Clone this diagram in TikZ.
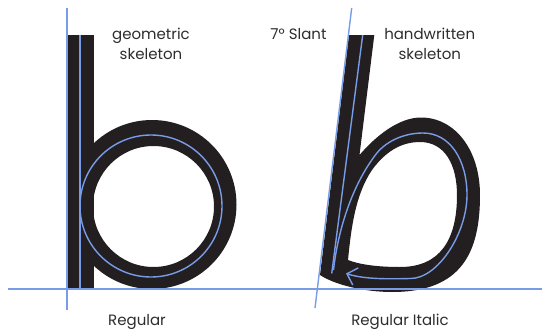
\documentclass[tikz,border=0pt]{standalone}
\usepackage{fontspec}
\setmainfont{Poppins}
\usetikzlibrary{arrows.meta}
\definecolor{guide}{RGB}{120,156,232}
\definecolor{ink}{RGB}{35,31,32}
\definecolor{txt}{RGB}{45,45,45}
\begin{document}
\begin{tikzpicture}[x=1pt,y=-1pt,
  guideline/.style={draw=guide,line width=1.4pt},
  lbl/.style={text=txt,font=\fontsize{15}{18}\selectfont,anchor=base,inner sep=0pt}]
\useasboundingbox (0,0) rectangle (542,330);
% upright b
\fill[ink,even odd rule] (152,204.5) circle[radius=84.5] (153.5,206.5) circle[radius=60.5];
\fill[ink] (68,35) rectangle (94,289);
% italic b
\fill[ink,even odd rule]
 (359.5,155) .. controls (375,137) and (398,117.5) .. (421,117.5)
 .. controls (455,117.5) and (480,150) .. (480,195)
 .. controls (480,252) and (462,292) .. (392,292)
 .. controls (365,292) and (335,285) .. (320,275)
 -- (349,35) -- (374.3,35) -- cycle
 (348,260) .. controls (351,230) and (355,195) .. (372,170)
 .. controls (388,148) and (405,142) .. (420,142)
 .. controls (445,142) and (457,165) .. (457,195)
 .. controls (457,240) and (440,267) .. (400,267)
 .. controls (375,267) and (358,264) .. cycle;
% guides
\draw[guideline] (67,8) -- (67,310);
\draw[guideline] (8,289) -- (542,289);
\draw[guideline] (351.7,8) -- (315,308);
% skeletons
\draw[guideline] (80,35) -- (80,289);
\draw[guideline] (151,206) circle[radius=71];
\draw[guideline] (362.7,35) -- (331.7,273.5);
\draw[guideline,-{Straight Barb[length=9pt,width=18pt]}]
 (333.5,270) .. controls (338,230) and (352,185) .. (376.7,153.3)
 .. controls (387,140.5) and (405,133) .. (423,133)
 .. controls (450,133) and (467,160) .. (467,195)
 .. controls (467,233) and (438,279) .. (410,278.5)
 .. controls (390,279) and (365,279.5) .. (346,273.5);
% labels
\node[lbl] (geo) at (151,39.3) {geometric};
\node[lbl] (geosk) at (151,59.3) {skeleton};
\node[lbl] (slant) at (298.5,39.3) {7° Slant};
\node[lbl] (hand) at (429.7,39.3) {handwritten};
\node[lbl] (handsk) at (429.8,59.3) {skeleton};
\node[lbl] (reg) at (137,325) {Regular};
\node[lbl] (regit) at (400,325) {Regular Italic};
\end{tikzpicture}
\end{document}
